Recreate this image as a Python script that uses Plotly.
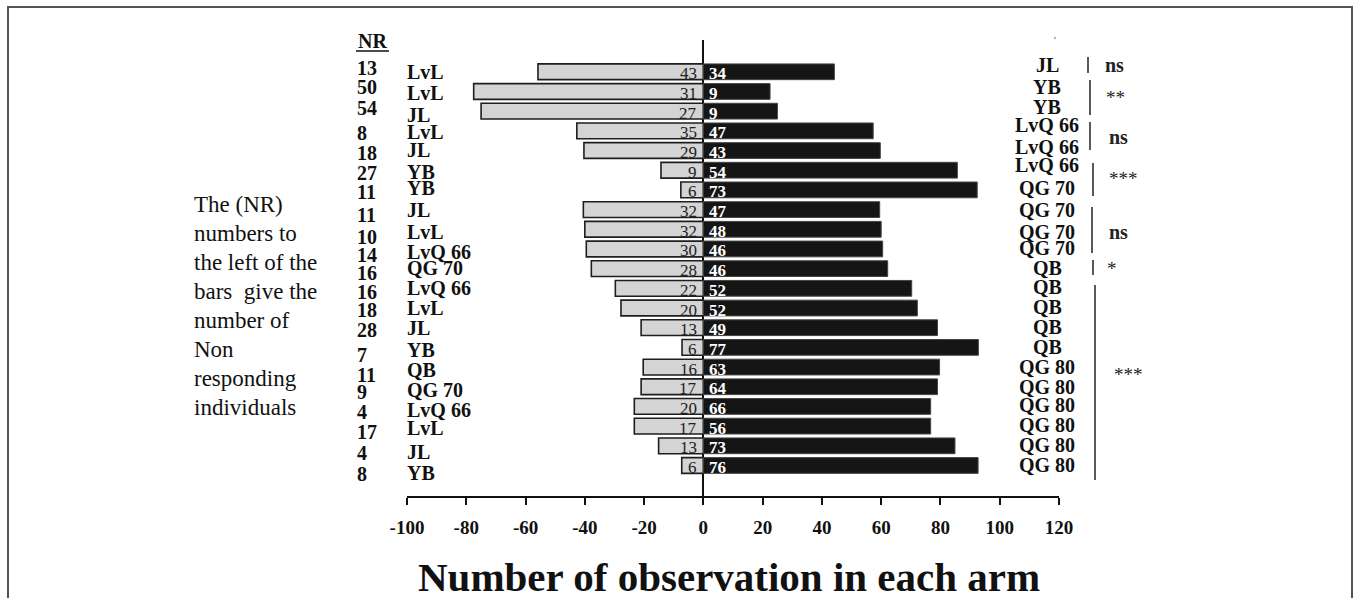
import plotly.graph_objects as go

# ---------------- data (top to bottom) ----------------
nr_counts = [13, 50, 54, 8, 18, 27, 11, 11, 10, 14, 16, 16, 18, 28, 7, 11, 9, 4, 17, 4, 8]
left_names = ["LvL", "LvL", "JL", "LvL", "JL", "YB", "YB", "JL", "LvL", "LvQ 66", "QG 70",
              "LvQ 66", "LvL", "JL", "YB", "QB", "QG 70", "LvQ 66", "LvL", "JL", "YB"]
right_names = ["JL", "YB", "YB", "LvQ 66", "LvQ 66", "LvQ 66", "QG 70", "QG 70", "QG 70", "QG 70",
               "QB", "QB", "QB", "QB", "QB", "QG 80", "QG 80", "QG 80", "QG 80", "QG 80", "QG 80"]
left_counts = [43, 31, 27, 35, 29, 9, 6, 32, 32, 30, 28, 22, 20, 13, 6, 16, 17, 20, 17, 13, 6]
right_counts = [34, 9, 9, 47, 43, 54, 73, 47, 48, 46, 46, 52, 52, 49, 77, 63, 64, 66, 56, 73, 76]
left_pct = [-55.8, -77.5, -75.0, -42.7, -40.3, -14.3, -7.6, -40.5, -40.0, -39.5, -37.8,
            -29.7, -27.8, -21.0, -7.2, -20.3, -21.0, -23.3, -23.3, -15.1, -7.3]
right_pct = [44.2, 22.5, 25.0, 57.3, 59.7, 85.7, 92.4, 59.5, 60.0, 60.5, 62.2,
             70.3, 72.2, 79.0, 92.8, 79.7, 79.0, 76.7, 76.7, 84.9, 92.7]
tick_vals = [-100, -80, -60, -40, -20, 0, 20, 40, 60, 80, 100, 120]
# significance groups: (first row, last row, label)
sig_groups = [(0, 0, "ns"), (1, 2, "**"), (3, 4, "ns"), (5, 6, "***"),
              (7, 9, "ns"), (10, 10, "*"), (11, 20, "***")]
note_lines = ["The (NR)", "numbers to", "the left of the", "bars  give the",
              "number of", "Non", "responding", "individuals"]

# ---------------- layout geometry (pixels) ----------------
W, H = 1360, 598
PL, PR, PT, PB = 407, 1059, 40, 496   # plot area in pixels


def px(x):
    return (x - PL) / (PR - PL)


def py(y):
    return (PB - y) / (PB - PT)


rows = list(range(len(nr_counts)))
nr_dy = [-4, -4.5, -3, 2, 2.5, 2.7, 2, 5, 7.7, 6, 4.3, 3.6, 2, 2.2, 7.5, 7.8, 5, 5.4, 5.7, 7, 9]
name_dy = [0, 1.5, 3.8, 1, -0.6, 1.7, -2, 0.4, 2.7, 3, -0.7, -0.4, -0.1, 0.2, 2.5, 2.8, 3.1, 3.4, 1.7, 6, 7.3]
right_dy = [-7, -4.5, -4, -6, -3.6, -5.3, -2, 0.4, 2.7, -1, -0.7, -1.4, -1.1, -0.8, -0.5, -0.2, 0.1, -1.6, -1.3, -1, -0.7]
sig_px = [(1088, 57, 73, 1114, 65), (1090, 80, 115, 1115, 98), (1090, 122, 150, 1118, 137),
          (1093, 163, 196, 1123, 178), (1092, 207, 253, 1118, 232), (1093, 260, 275, 1112, 268),
          (1095, 285, 480, 1128, 374)]

SERIF = "Liberation Serif, Times New Roman, serif"

fig = go.Figure()
fig.add_trace(go.Bar(y=rows, x=left_pct, orientation="h", width=0.8,
                     marker=dict(color="#d4d4d4", line=dict(color="#1e1e1e", width=1.6)),
                     hoverinfo="skip", showlegend=False))
fig.add_trace(go.Bar(y=rows, x=right_pct, orientation="h", width=0.8,
                     marker=dict(color="#151515", line=dict(color="#444444", width=1)),
                     hoverinfo="skip", showlegend=False))

ann = []
shapes = []
for k in rows:
    ann.append(dict(x=-1.6, y=k, xref="x", yref="y", text=str(left_counts[k]), showarrow=False,
                    xanchor="right", yanchor="middle", yshift=-2,
                    font=dict(family=SERIF, size=17, color="#222")))
    ann.append(dict(x=1.2, y=k, xref="x", yref="y", text="<b>%d</b>" % right_counts[k], showarrow=False,
                    xanchor="left", yanchor="middle", yshift=-2,
                    font=dict(family=SERIF, size=17, color="white")))
    ann.append(dict(x=px(355), y=k, xref="paper", yref="y", text="<b>%d</b>" % nr_counts[k],
                    showarrow=False, xanchor="left", yanchor="middle", yshift=-nr_dy[k],
                    font=dict(family=SERIF, size=20, color="#111")))
    ann.append(dict(x=px(405), y=k, xref="paper", yref="y", text="<b>%s</b>" % left_names[k],
                    showarrow=False, xanchor="left", yanchor="middle", yshift=-name_dy[k],
                    font=dict(family=SERIF, size=20, color="#111")))
    ann.append(dict(x=px(1047), y=k, xref="paper", yref="y", text="<b>%s</b>" % right_names[k],
                    showarrow=False, xanchor="center", yanchor="middle", yshift=-right_dy[k],
                    font=dict(family=SERIF, size=20, color="#111")))

for (g, (lx, y0, y1, tx, ty)) in zip(sig_groups, sig_px):
    shapes.append(dict(type="line", xref="paper", yref="paper", x0=px(lx), x1=px(lx),
                       y0=py(y0), y1=py(y1), line=dict(color="#222", width=1.5)))
    lab = g[2]
    txt = "<b>%s</b>" % lab if lab == "ns" else lab
    ann.append(dict(x=px(tx), y=py(ty), xref="paper", yref="paper", text=txt, showarrow=False,
                    xanchor="center", yanchor="middle",
                    font=dict(family=SERIF, size=20 if lab == "ns" else 19, color="#222")))

# NR header
ann.append(dict(x=px(372), y=py(41), xref="paper", yref="paper", text="<b>NR</b>", showarrow=False,
                xanchor="center", yanchor="middle", font=dict(family=SERIF, size=20, color="#111")))
shapes.append(dict(type="line", xref="paper", yref="paper", x0=px(356), x1=px(389),
                   y0=py(51), y1=py(51), line=dict(color="#111", width=1.5)))

# side note
for i, line in enumerate(note_lines):
    ann.append(dict(x=px(192), y=py(205 + 28.9 * i), xref="paper", yref="paper", text=line,
                    showarrow=False, xanchor="left", yanchor="middle",
                    font=dict(family=SERIF, size=23, color="#111")))

# small mark top right
ann.append(dict(x=px(1058), y=py(33), xref="paper", yref="paper", text="'", showarrow=False,
                font=dict(family=SERIF, size=10, color="#333")))

# x axis title
ann.append(dict(x=px(729), y=py(577), xref="paper", yref="paper",
                text="<b>Number of observation in each arm</b>", showarrow=False,
                xanchor="center", yanchor="middle", font=dict(family=SERIF, size=41, color="#111")))

# outer frame
shapes.append(dict(type="rect", xref="paper", yref="paper", x0=px(8), x1=px(1352),
                   y0=py(620), y1=py(7), line=dict(color="#555", width=2)))

fig.update_layout(
    width=W, height=H, barmode="overlay", bargap=0.2,
    margin=dict(l=PL, r=W - PR, t=PT, b=H - PB, pad=0),
    plot_bgcolor="white", paper_bgcolor="white",
    annotations=ann, shapes=shapes,
    xaxis=dict(range=[-100, 120], tickvals=tick_vals, ticktext=[str(v) for v in tick_vals],
               showgrid=False, zeroline=True, zerolinecolor="#111", zerolinewidth=1.5,
               showline=True, linecolor="#111", linewidth=1.5, ticks="outside", ticklen=7,
               tickcolor="#111", tickwidth=1.5, ticklabelstandoff=6,
               tickfont=dict(family=SERIF, size=19, color="#111", weight="bold"), fixedrange=True),
    yaxis=dict(range=[21.55, -1.615], showgrid=False, zeroline=False, showline=False,
               showticklabels=False, ticks="", fixedrange=True),
)

fig.write_html("out.html", config={"displayModeBar": False},
               post_script="document.body.style.margin='0px';document.body.style.overflow='hidden';")
